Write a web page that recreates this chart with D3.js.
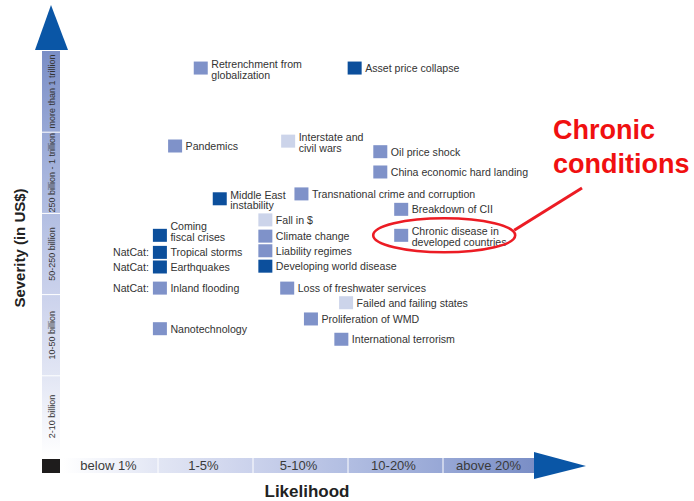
<!DOCTYPE html>
<html><head><meta charset="utf-8">
<script src="https://cdn.jsdelivr.net/npm/d3@7"></script>
<style>html,body{margin:0;padding:0;background:#fff;}svg{display:block;font-family:"Liberation Sans",Arial,Helvetica,sans-serif;}</style>
</head><body>
<script>
// ---- data ----
const likelihoodBands = ["below 1%", "1-5%", "5-10%", "10-20%", "above 20%"];
const severityBands = ["2-10 billion", "10-50 billion", "50-250 billion", "250 billion - 1 trillion", "more than 1 trillion"];

const riskLabels = [
  ["Retrenchment from", "globalization"],
  ["Asset price collapse"],
  ["Pandemics"],
  ["Interstate and", "civil wars"],
  ["Oil price shock"],
  ["China economic hard landing"],
  ["Middle East", "instability"],
  ["Transnational crime and corruption"],
  ["Breakdown of CII"],
  ["Chronic disease in", "developed countries"],
  ["Fall in $"],
  ["Climate change"],
  ["Liability regimes"],
  ["Developing world disease"],
  ["Coming", "fiscal crises"],
  ["Tropical storms"],
  ["Earthquakes"],
  ["Inland flooding"],
  ["Nanotechnology"],
  ["Loss of freshwater services"],
  ["Failed and failing states"],
  ["Proliferation of WMD"],
  ["International terrorism"]
];
const riskPrefix = ["", "", "", "", "", "", "", "", "", "", "", "", "", "", "", "NatCat:", "NatCat:", "NatCat:", "", "", "", "", ""];
// likelihood & severity in band units (0 = bottom/left edge of first band, 5 = end of last band)
const riskLikelihood = [1.45, 3.07, 1.18, 2.37, 3.34, 3.34, 1.65, 2.51, 3.56, 3.56, 2.13, 2.13, 2.13, 2.13, 1.02, 1.02, 1.02, 1.02, 1.02, 2.36, 2.98, 2.61, 2.93];
const riskSeverity   = [4.79, 4.79, 3.83, 3.89, 3.76, 3.51, 3.18, 3.24, 3.05, 2.73, 2.92, 2.72, 2.54, 2.35, 2.73, 2.52, 2.34, 2.08, 1.58, 2.08, 1.90, 1.70, 1.45];
// tone: 0 light, 1 medium, 2 dark
const riskTone = [1, 2, 1, 0, 1, 1, 2, 1, 1, 1, 0, 1, 1, 2, 2, 2, 2, 1, 1, 1, 0, 1, 1];
const highlighted = "Chronic disease in";
const annotationLines = ["Chronic", "conditions"];

// ---- drawing ----
const W = 694, H = 501;
const svg = d3.select("body").append("svg").attr("width", W).attr("height", H);
const x = d3.scaleLinear().domain([0, 5]).range([63, 538]);
const y = d3.scaleLinear().domain([0, 5]).range([457, 51]);
const toneColor = ["#ccd4ea", "#7f92c9", "#0c4f9c"];
const bandColor = d3.scaleLinear().domain([0, 1, 2, 3, 4, 5]).range(["#ffffff", "#e2e6f4", "#cbd2ec", "#b2bee2", "#98a8d6", "#7a8ec6"]);

const defs = svg.append("defs");
const gv = defs.append("linearGradient").attr("id", "gv").attr("x1", 0).attr("y1", 1).attr("x2", 0).attr("y2", 0);
const gh = defs.append("linearGradient").attr("id", "gh").attr("x1", 0).attr("y1", 0).attr("x2", 1).attr("y2", 0);
d3.range(0, 5.01, 0.5).forEach(t => {
  gv.append("stop").attr("offset", t / 5).attr("stop-color", bandColor(t));
  gh.append("stop").attr("offset", t / 5).attr("stop-color", bandColor(t));
});

// vertical axis bar
const vx0 = 42, vw = 18;
svg.append("rect").attr("x", vx0).attr("y", y(5)).attr("width", vw).attr("height", y(0) - y(5)).attr("fill", "url(#gv)");
svg.selectAll(".vsep").data(d3.range(1, 5)).join("line")
  .attr("x1", vx0).attr("x2", vx0 + vw).attr("y1", d => y(d)).attr("y2", d => y(d))
  .attr("stroke", "#fff").attr("stroke-width", 1);
svg.selectAll(".vlab").data(severityBands).join("text")
  .attr("transform", (d, i) => `translate(${vx0 + vw / 2 + 3.5},${y(i + 0.5)}) rotate(-90)`)
  .attr("text-anchor", "middle").attr("font-size", 9).attr("fill", "#333").text(d => d);
// vertical arrow head
svg.append("path").attr("d", `M${vx0 + vw / 2},5 L${vx0 - 7},${y(5) - 1} L${vx0 + vw + 8},${y(5) - 1} Z`).attr("fill", "#0a56a6");

// horizontal axis bar
const hy0 = 458, hh = 15;
svg.append("rect").attr("x", x(0)).attr("y", hy0).attr("width", x(5) - 4 - x(0)).attr("height", hh).attr("fill", "url(#gh)");
svg.selectAll(".hsep").data(d3.range(1, 5)).join("line")
  .attr("x1", d => x(d)).attr("x2", d => x(d)).attr("y1", hy0).attr("y2", hy0 + hh)
  .attr("stroke", "#fff").attr("stroke-width", 1);
svg.selectAll(".hlab").data(likelihoodBands).join("text")
  .attr("x", (d, i) => x(i + 0.5) - 2).attr("y", hy0 + 12)
  .attr("text-anchor", "middle").attr("font-size", 13).attr("fill", "#3a3a3a").text(d => d);
svg.append("path").attr("d", `M${x(5) - 4},452 L586,466 L${x(5) - 4},479 Z`).attr("fill", "#0a56a6");
// black origin square
svg.append("rect").attr("x", vx0).attr("y", 459).attr("width", vw).attr("height", 14).attr("fill", "#1e1c1c");

// axis titles
svg.append("text").attr("x", 307).attr("y", 497).attr("text-anchor", "middle")
  .attr("font-size", 17).attr("font-weight", "bold").attr("fill", "#222").text("Likelihood");
svg.append("text").attr("transform", "translate(25,248) rotate(-90)").attr("text-anchor", "middle")
  .attr("font-size", 15).attr("font-weight", "bold").attr("fill", "#222").text("Severity (in US$)");

// risks
const risks = riskLabels.map((lines, i) => ({ lines, prefix: riskPrefix[i], lx: riskLikelihood[i], sv: riskSeverity[i], tone: riskTone[i] }));
const g = svg.selectAll(".risk").data(risks).join("g")
  .attr("transform", d => `translate(${x(d.lx)},${y(d.sv)})`);
g.append("rect").attr("x", -7).attr("y", -6.5).attr("width", 14).attr("height", 13)
  .attr("fill", d => toneColor[d.tone]);
g.each(function (d) {
  const sel = d3.select(this);
  const t = sel.append("text").attr("font-size", 10.6).attr("fill", "#333");
  if (d.lines.length === 1) {
    t.append("tspan").attr("x", 10.5).attr("y", 4).text(d.lines[0]);
  } else {
    const off = d.lines[0] === "Coming" ? -5 : 0;
    d.lines.forEach((l, k) => t.append("tspan").attr("x", 10.5).attr("y", off + k * 10.5).text(l));
  }
  if (d.prefix) {
    sel.append("text").attr("x", -11).attr("y", 4).attr("text-anchor", "end")
      .attr("font-size", 10.6).attr("fill", "#333").text(d.prefix);
  }
});

// annotation
const hi = risks.find(d => d.lines[0] === highlighted);
const ecx = x(hi.lx) + 43, ecy = y(hi.sv);
svg.append("ellipse").attr("cx", ecx).attr("cy", ecy).attr("rx", 71).attr("ry", 17)
  .attr("fill", "none").attr("stroke", "#ec1c24").attr("stroke-width", 2.6);
svg.append("line").attr("x1", ecx + 70).attr("y1", ecy - 5).attr("x2", 582).attr("y2", 188)
  .attr("stroke", "#ec1c24").attr("stroke-width", 3);
svg.selectAll(".ann").data(annotationLines).join("text")
  .attr("x", 553).attr("y", (d, i) => 139 + i * 34)
  .attr("font-size", 27).attr("font-weight", "bold").attr("fill", "#f01010").text(d => d);
</script>
</body></html>
